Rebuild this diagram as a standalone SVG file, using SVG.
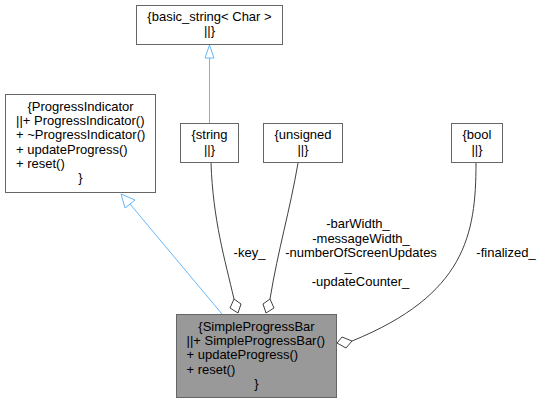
<svg xmlns="http://www.w3.org/2000/svg" width="542" height="404" viewBox="0 0 542 404">
<style>
text{font-family:"Liberation Sans",Arial,sans-serif;font-size:13px;fill:#000}
.c{text-anchor:middle}
.box{fill:#fff;stroke:#666;stroke-width:1}
.sel{fill:#999;stroke:#666;stroke-width:1}
.inh{fill:none;stroke:#63b8ff;stroke-width:1}
.arr{fill:#fff;stroke:#63b8ff;stroke-width:1}
.use{fill:none;stroke:#404040;stroke-width:1}
.dia{fill:#fff;stroke:#404040;stroke-width:1}
</style>
<rect width="542" height="404" fill="#fff"/>
<g id="edges">
<path class="inh" d="M209.5,123 L209.5,58"/>
<polygon class="arr" points="209.5,45 214,58 205,58"/>
<path class="inh" d="M222,314 L130,204"/>
<polygon class="arr" points="121,194 135,200 125,208"/>
<path class="use" d="M211,163 C213,220 225,260 234,299"/>
<polygon class="dia" points="234,299 241,304 238,313 230,308"/>
<path class="use" d="M298,163 C290,210 278,250 270,299"/>
<polygon class="dia" points="270,299 274,308 266,313 263,304"/>
<path class="use" d="M476,163 C476,235 465,295 352,341"/>
<polygon class="dia" points="352,341 346,348 337,343 342,337"/>
<text class="c" x="249.5" y="256.5">-key_</text>
<text class="c" x="358" y="228">-barWidth_</text>
<text class="c" x="361" y="242.5">-messageWidth_</text>
<text class="c" x="361" y="256.5">-numberOfScreenUpdates</text>
<text class="c" x="348" y="271">_</text>
<text class="c" x="360.5" y="285.5">-updateCounter_</text>
<text class="c" x="506" y="256.5">-finalized_</text>
</g>
<g id="basic_string">
<rect class="box" x="136.5" y="5.5" width="146" height="39"/>
<text class="c" x="209.5" y="20.5">{basic_string&lt; Char &gt;</text>
<text class="c" x="209.5" y="34.5">||}</text>
</g>
<g id="ProgressIndicator">
<rect class="box" x="5.5" y="94.5" width="150" height="98"/>
<text class="c" x="80.5" y="110.5">{ProgressIndicator</text>
<text x="16" y="125">||+ ProgressIndicator()</text>
<text x="16" y="139.3">+ ~ProgressIndicator()</text>
<text x="16" y="153.5">+ updateProgress()</text>
<text x="16" y="167.5">+ reset()</text>
<text class="c" x="80.5" y="181.8">}</text>
</g>
<g id="string">
<rect class="box" x="180.5" y="123.5" width="58" height="39"/>
<text class="c" x="209.5" y="139">{string</text>
<text class="c" x="209.5" y="153.5">||}</text>
</g>
<g id="unsigned">
<rect class="box" x="263.5" y="123.5" width="79" height="39"/>
<text class="c" x="303" y="139">{unsigned</text>
<text class="c" x="303" y="153.5">||}</text>
</g>
<g id="bool">
<rect class="box" x="451.5" y="123.5" width="51" height="39"/>
<text class="c" x="477" y="139">{bool</text>
<text class="c" x="477" y="153.5">||}</text>
</g>
<g id="SimpleProgressBar">
<rect class="sel" x="176.5" y="314.5" width="160" height="83"/>
<text class="c" x="256.5" y="330.5">{SimpleProgressBar</text>
<text x="186.5" y="345">||+ SimpleProgressBar()</text>
<text x="186.5" y="359.3">+ updateProgress()</text>
<text x="186.5" y="373.6">+ reset()</text>
<text class="c" x="256.5" y="388">}</text>
</g>
</svg>
